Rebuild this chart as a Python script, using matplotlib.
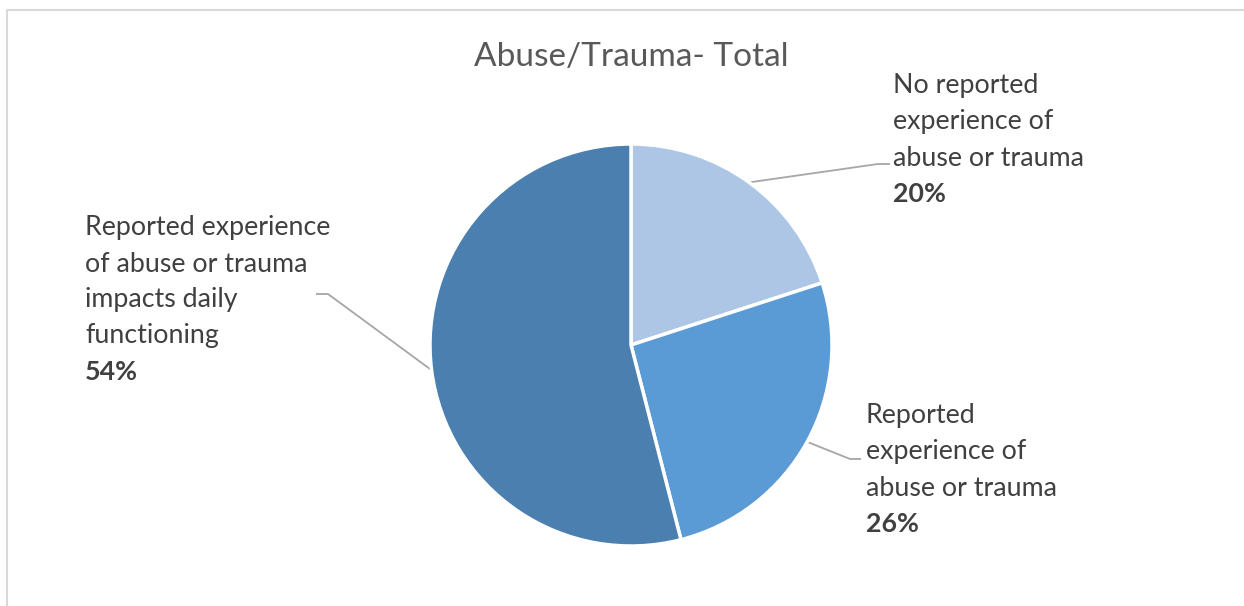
import numpy as np
import matplotlib
matplotlib.use("Agg")
import matplotlib.pyplot as plt
from matplotlib.lines import Line2D

# Data
categories = [
    "No reported\nexperience of\nabuse or trauma",
    "Reported\nexperience of\nabuse or trauma",
    "Reported experience\nof abuse or trauma\nimpacts daily\nfunctioning",
]
values = [20, 26, 54]
colors = ["#AEC6E5", "#5B9BD5", "#4A7FB0"]
title = "Abuse/Trauma- Total"

W, H = 1244, 606
DPI = 100
fig = plt.figure(figsize=(W / DPI, H / DPI), dpi=DPI)
ax = fig.add_axes([0, 0, 1, 1])
ax.set_xlim(0, W)
ax.set_ylim(0, H)
ax.set_aspect("equal")
ax.axis("off")

FONT = "Lato"
TXT = "#404040"
LABEL_SIZE = 19.3

def Y(y):
    return H - y

cx, cy, r = 631, Y(345), 201
wedges, _ = ax.pie(values, colors=colors, startangle=90, counterclock=False,
                   center=(cx, cy), radius=r, frame=True,
                   wedgeprops=dict(edgecolor="white", linewidth=2.5))
ax.set_xlim(0, W)
ax.set_ylim(0, H)
ax.axis("off")

# chart border (top and left edges visible)
fig.add_artist(Line2D([7 / W, 7 / W, 1], [0, 1 - 10 / H, 1 - 10 / H],
                      transform=fig.transFigure, color="#D9D9D9", lw=1.5))

ax.text(cx, Y(57), title, ha="center", va="center", fontsize=24,
        color="#595959", family=FONT)

# label layout: (text x, first line y, line step, elbow point, end point)
layout = [
    dict(x=893, y0=86, step=36, elbow=(878, 164), end=(890, 164)),
    dict(x=866, y0=415, step=36.5, elbow=(850, 459), end=(861, 459)),
    dict(x=85, y0=228, step=36, elbow=(328, 294), end=(316, 294)),
]

for w, cat, v, lay in zip(wedges, categories, values, layout):
    lines = cat.split("\n")
    for i, line in enumerate(lines):
        ax.text(lay["x"], Y(lay["y0"] + i * lay["step"]), line, ha="left",
                va="center", fontsize=LABEL_SIZE, color=TXT, family=FONT)
    ax.text(lay["x"], Y(lay["y0"] + len(lines) * lay["step"]), f"{v}%",
            ha="left", va="center", fontsize=LABEL_SIZE, color=TXT, family=FONT,
            fontweight="bold")
    ang = np.deg2rad((w.theta1 + w.theta2) / 2)
    px, py = cx + r * np.cos(ang), cy + r * np.sin(ang)
    ex, ey = lay["elbow"]
    tx, ty = lay["end"]
    ax.plot([px, ex, tx], [py, Y(ey), Y(ty)], color="#A6A6A6", lw=1.3,
            solid_capstyle="butt", zorder=0.5)

fig.savefig("out.png", dpi=DPI, facecolor="white")
